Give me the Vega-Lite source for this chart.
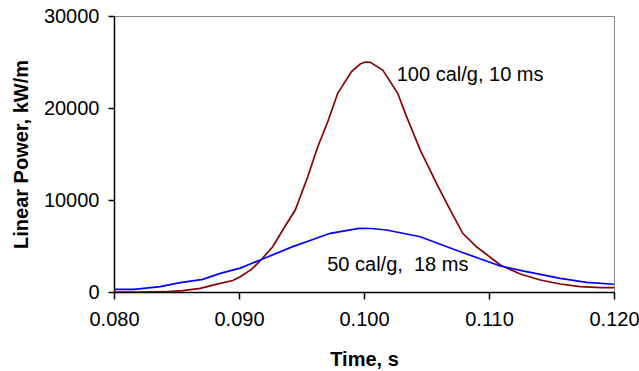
{
  "$schema": "https://vega.github.io/schema/vega-lite/v6.json",
  "autosize": "none",
  "padding": {"left": 114, "top": 16, "right": 25, "bottom": 79},
  "width": 500,
  "height": 276,
  "config": {
    "view": {"stroke": "#888888", "strokeWidth": 1},
    "font": "Liberation Sans",
    "axis": {
      "domainColor": "#000000", "tickColor": "#000000", "labelColor": "#000000", "titleColor": "#000000",
      "labelFont": "Liberation Sans", "titleFont": "Liberation Sans",
      "labelFontSize": 20, "titleFontSize": 20, "titleFontWeight": "bold",
      "grid": false, "domainWidth": 1.5, "tickWidth": 1.5
    }
  },
  "datasets": {
    "curves": [
      {"t": 0.080, "v": 0, "s": "100"},
      {"t": 0.082, "v": 0, "s": "100"},
      {"t": 0.084, "v": 30, "s": "100"},
      {"t": 0.0855, "v": 150, "s": "100"},
      {"t": 0.0869, "v": 400, "s": "100"},
      {"t": 0.0880, "v": 780, "s": "100"},
      {"t": 0.0895, "v": 1250, "s": "100"},
      {"t": 0.0901, "v": 1650, "s": "100"},
      {"t": 0.0910, "v": 2450, "s": "100"},
      {"t": 0.0917, "v": 3400, "s": "100"},
      {"t": 0.0927, "v": 4920, "s": "100"},
      {"t": 0.0935, "v": 6740, "s": "100"},
      {"t": 0.0945, "v": 8910, "s": "100"},
      {"t": 0.0955, "v": 12530, "s": "100"},
      {"t": 0.0963, "v": 15790, "s": "100"},
      {"t": 0.0971, "v": 18510, "s": "100"},
      {"t": 0.0979, "v": 21600, "s": "100"},
      {"t": 0.0990, "v": 23950, "s": "100"},
      {"t": 0.0997, "v": 24780, "s": "100"},
      {"t": 0.1001, "v": 25000, "s": "100"},
      {"t": 0.1005, "v": 24970, "s": "100"},
      {"t": 0.1015, "v": 24130, "s": "100"},
      {"t": 0.1027, "v": 21600, "s": "100"},
      {"t": 0.1033, "v": 19420, "s": "100"},
      {"t": 0.1045, "v": 15430, "s": "100"},
      {"t": 0.1058, "v": 11810, "s": "100"},
      {"t": 0.1069, "v": 8910, "s": "100"},
      {"t": 0.1079, "v": 6380, "s": "100"},
      {"t": 0.1090, "v": 4920, "s": "100"},
      {"t": 0.1109, "v": 2935, "s": "100"},
      {"t": 0.1125, "v": 1960, "s": "100"},
      {"t": 0.1141, "v": 1300, "s": "100"},
      {"t": 0.1157, "v": 870, "s": "100"},
      {"t": 0.1173, "v": 580, "s": "100"},
      {"t": 0.1190, "v": 470, "s": "100"},
      {"t": 0.1200, "v": 470, "s": "100"},
      {"t": 0.080, "v": 290, "s": "50"},
      {"t": 0.0816, "v": 290, "s": "50"},
      {"t": 0.0837, "v": 580, "s": "50"},
      {"t": 0.0853, "v": 1010, "s": "50"},
      {"t": 0.0871, "v": 1380, "s": "50"},
      {"t": 0.0885, "v": 2030, "s": "50"},
      {"t": 0.0901, "v": 2600, "s": "50"},
      {"t": 0.0917, "v": 3480, "s": "50"},
      {"t": 0.0943, "v": 4930, "s": "50"},
      {"t": 0.0958, "v": 5650, "s": "50"},
      {"t": 0.0973, "v": 6380, "s": "50"},
      {"t": 0.0996, "v": 6920, "s": "50"},
      {"t": 0.1006, "v": 6900, "s": "50"},
      {"t": 0.1018, "v": 6740, "s": "50"},
      {"t": 0.1045, "v": 6010, "s": "50"},
      {"t": 0.1077, "v": 4380, "s": "50"},
      {"t": 0.1109, "v": 2830, "s": "50"},
      {"t": 0.1125, "v": 2350, "s": "50"},
      {"t": 0.1141, "v": 1920, "s": "50"},
      {"t": 0.1157, "v": 1490, "s": "50"},
      {"t": 0.1178, "v": 1050, "s": "50"},
      {"t": 0.1200, "v": 840, "s": "50"}
    ],
    "labels": [
      {"t": 0.10262, "v": 23600, "label": "100 cal/g, 10 ms"},
      {"t": 0.09706, "v": 2900, "label": "50 cal/g, \u00a018 ms"}
    ]
  },
  "layer": [
    {
      "data": {"name": "curves"},
      "mark": {"type": "line", "strokeWidth": 1.7, "interpolate": "linear", "clip": true},
      "encoding": {
        "x": {"field": "t", "type": "quantitative", "title": "Time, s",
              "scale": {"domain": [0.08, 0.12], "nice": false, "zero": false},
              "axis": {"values": [0.08, 0.09, 0.1, 0.11, 0.12], "format": ".3f", "tickSize": 7, "labelPadding": 10, "titlePadding": 20, "labelFlush": false}},
        "y": {"field": "v", "type": "quantitative", "title": "Linear Power, kW/m",
              "scale": {"domain": [0, 30000], "nice": false},
              "axis": {"values": [0, 10000, 20000, 30000], "format": "d", "tickSize": 6, "labelPadding": 9, "titlePadding": 12, "labelFlush": false}},
        "color": {"field": "s", "type": "nominal", "legend": null,
                  "scale": {"domain": ["100", "50"], "range": ["#8B0000", "#0000FF"]}}
      }
    },
    {
      "data": {"name": "labels"},
      "mark": {"type": "text", "align": "left", "baseline": "middle", "fontSize": 20, "font": "Liberation Sans", "color": "#000000"},
      "encoding": {
        "x": {"field": "t", "type": "quantitative"},
        "y": {"field": "v", "type": "quantitative"},
        "text": {"field": "label"}
      }
    }
  ]
}
